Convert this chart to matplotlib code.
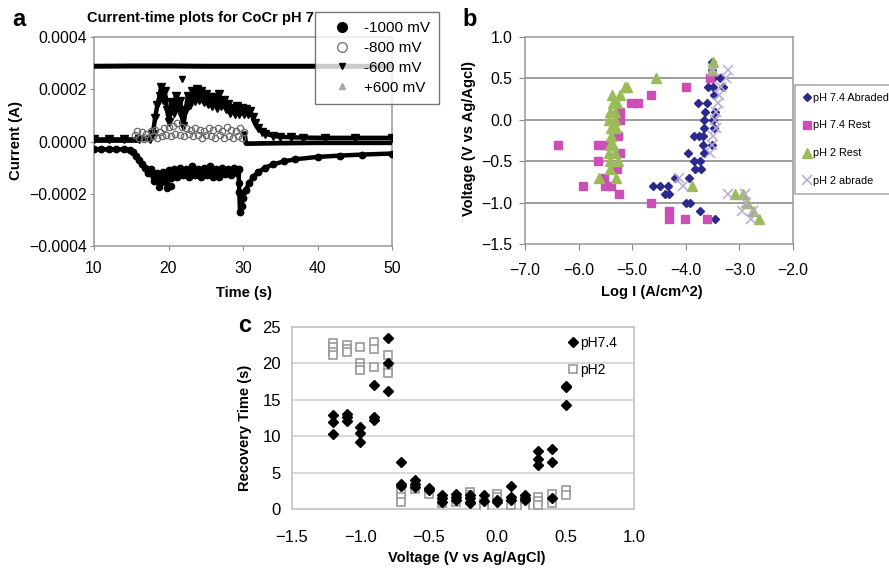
import matplotlib
matplotlib.use("Agg")
import matplotlib.pyplot as plt
from matplotlib.lines import Line2D
from matplotlib.ticker import FixedLocator, FuncFormatter

plt.rcParams['font.family'] = ['Liberation Sans', 'DejaVu Sans']

W, H = 889, 570
def fx(p): return p / W
def fy(p): return 1 - p / H

# ---------------- Panel a data (current in units of 1e-4 A) ----------------
t_p600 = [10, 15, 20, 25, 30, 35, 40, 45, 50]
i_p600 = [2.88, 2.89, 2.89, 2.88, 2.88, 2.88, 2.88, 2.88, 2.88]

t_m1000 = [10, 11, 12, 13, 14, 14.8, 15.2, 15.6, 16.0, 16.4, 16.8, 17.2, 17.6, 18.0, 18.4,
           18.8, 19.2, 19.6, 20.0, 20.4, 20.8, 21.2, 21.6, 22.0, 22.4, 22.8, 23.2, 23.6,
           24.0, 24.4, 24.8, 25.2, 25.6, 26.0, 26.4, 26.8, 27.2, 27.6, 28.0, 28.4, 28.8,
           29.2, 29.4, 29.5, 29.6, 29.8, 30.0, 30.4, 30.8, 31.4, 32.0, 33.0, 34.0, 35.5,
           37.0, 40.0, 43.0, 46.0, 50.0]
i_m1000 = [-0.30, -0.30, -0.30, -0.30, -0.30, -0.31, -0.40, -0.55, -0.70, -0.85, -1.00,
           -1.20, -1.05, -1.50, -1.20, -1.60, -1.15, -1.55, -1.10, -1.40, -1.05, -1.35,
           -1.00, -1.30, -1.05, -1.35, -0.95, -1.30, -1.05, -1.35, -1.00, -1.30, -0.95,
           -1.35, -1.05, -1.35, -1.00, -1.25, -1.05, -1.30, -1.00, -1.20, -1.05, -1.95,
           -2.70, -2.45, -2.15, -1.85, -1.60, -1.35, -1.18, -1.00, -0.88, -0.76, -0.68,
           -0.59, -0.54, -0.50, -0.46]
t_m1000_out = [18.7, 19.8, 20.3, 29.4]
i_m1000_out = [-1.75, -1.78, -1.70, -1.58]

t_m800_pre = [10, 12, 14, 15.5]
i_m800_pre = [0.05, 0.05, 0.05, 0.05]
t_m800_post = [30.2, 30.4, 31, 33, 36, 40, 45, 50]
i_m800_post = [0.30, -0.08, -0.08, -0.07, -0.06, -0.05, -0.05, -0.05]
t_m800_noise = [15.5, 15.8, 16.1, 16.4, 16.7, 17.0, 17.3, 17.6, 17.9, 18.2, 18.5, 18.8,
                19.1, 19.4, 19.7, 20.0, 20.3, 20.6, 20.9, 21.2, 21.5, 21.8, 22.1, 22.4,
                22.7, 23.0, 23.3, 23.6, 23.9, 24.2, 24.5, 24.8, 25.1, 25.4, 25.7, 26.0,
                26.3, 26.6, 26.9, 27.2, 27.5, 27.8, 28.1, 28.4, 28.7, 29.0, 29.3, 29.6,
                29.9, 30.2]
i_m800_noise = [0.25, 0.40, 0.15, 0.35, 0.10, 0.30, 0.15, 0.40, 0.20, 0.45, 0.15, 0.35,
                0.20, 0.50, 0.25, 0.55, 0.20, 0.60, 0.30, 0.70, 0.25, 0.55, 0.20, 0.50,
                0.30, 0.45, 0.20, 0.50, 0.25, 0.45, 0.15, 0.40, 0.25, 0.50, 0.20, 0.45,
                0.15, 0.50, 0.25, 0.40, 0.15, 0.55, 0.20, 0.45, 0.15, 0.40, 0.20, 0.50,
                0.15, 0.35]

t_m600 = [10, 12, 14, 16, 17.5, 17.9, 18.2, 18.5, 18.8, 19.0, 19.2, 19.5, 19.8, 20.1,
          20.4, 20.7, 21.0, 21.3, 21.6, 21.8, 22.0, 22.3, 22.6, 22.9, 23.2, 23.5, 23.8,
          24.1, 24.4, 24.7, 25.0, 25.3, 25.6, 25.9, 26.2, 26.5, 26.8, 27.1, 27.4, 27.7,
          28.0, 28.3, 28.6, 28.9, 29.2, 29.5, 29.8, 30.1, 30.4, 30.7, 31.0, 31.3, 31.6,
          32.0, 32.5, 33.0, 34.0, 35.0, 36.5, 38.0, 41.0, 45.0, 50.0]
i_m600 = [0.08, 0.08, 0.08, 0.08, 0.10, 0.30, 0.90, 1.40, 1.75, 2.10, 1.60, 1.95, 1.20,
          0.75, 1.50, 1.10, 1.75, 1.30, 1.55, 0.95, 0.60, 1.20, 1.75, 1.40, 1.95, 1.55,
          2.00, 1.60, 1.95, 1.50, 1.80, 1.45, 1.70, 1.35, 1.70, 1.30, 1.80, 1.35, 1.60,
          1.25, 1.45, 1.10, 1.30, 1.05, 1.35, 1.05, 1.30, 1.05, 1.25, 1.05, 1.15, 0.95,
          0.70, 0.50, 0.38, 0.30, 0.22, 0.18, 0.16, 0.15, 0.14, 0.14, 0.14]
t_m600_out = [21.8]
i_m600_out = [2.40]

a_xticks = [10, 20, 30, 40, 50]
a_yticks = [-4, -2, 0, 2, 4]
a_legend = ['-1000 mV', '-800 mV', '-600 mV', '+600 mV']

# ---------------- Panel b data ----------------
b_ab74_v = [0.7, 0.6, 0.5, 0.5, 0.4, 0.4, 0.4, 0.3, 0.2, 0.2, 0.1, 0.1, 0.0, 0.0, -0.1, -0.1,
            -0.2, -0.2, -0.2, -0.3, -0.3, -0.4, -0.4, -0.5, -0.5, -0.6, -0.6, -0.7, -0.7,
            -0.8, -0.8, -0.8, -0.9, -0.9, -1.0, -1.0, -1.1, -1.2]
b_ab74_l = [-3.52, -3.52, -3.49, -3.36, -3.58, -3.49, -3.30, -3.48, -3.77, -3.61, -3.65,
            -3.46, -3.66, -3.50, -3.66, -3.47, -3.84, -3.76, -3.68, -3.68, -3.52, -3.96,
            -3.66, -3.85, -3.74, -3.83, -3.72, -4.20, -3.94, -4.62, -4.48, -4.34, -4.39,
            -4.31, -4.00, -3.93, -3.73, -3.46]
b_rest74_v = [0.5, 0.4, 0.3, 0.2, 0.2, 0.1, 0.0, -0.2, -0.3, -0.3, -0.3, -0.4, -0.5, -0.6,
              -0.7, -0.8, -0.8, -0.8, -0.9, -1.0, -1.1, -1.2, -1.2, -1.2]
b_rest74_l = [-3.55, -3.99, -4.65, -5.02, -4.89, -5.22, -5.23, -5.27, -6.38, -5.63, -5.51,
              -5.23, -5.63, -5.29, -5.53, -5.91, -5.50, -5.40, -5.25, -4.65, -4.31, -4.31,
              -4.01, -3.61]
b_rest2_v = [0.7, 0.6, 0.5, 0.4, 0.4, 0.3, 0.3, 0.2, 0.2, 0.1, 0.1, 0.0, 0.0, -0.1, -0.1,
             -0.2, -0.3, -0.3, -0.4, -0.4, -0.5, -0.5, -0.6, -0.7, -0.7, -0.8, -0.9, -0.9,
             -1.0, -1.1, -1.2]
b_rest2_l = [-3.49, -3.52, -4.56, -5.14, -5.09, -5.37, -5.22, -5.35, -5.29, -5.42, -5.32,
             -5.43, -5.32, -5.39, -5.30, -5.39, -5.42, -5.35, -5.43, -5.32, -5.42, -5.26,
             -5.42, -5.62, -5.30, -3.89, -3.09, -2.93, -2.86, -2.75, -2.63]
b_ab2_v = [0.6, 0.6, 0.5, 0.4, 0.3, 0.2, 0.1, 0.0, -0.1, -0.2, -0.3, -0.4, -0.7, -0.8,
           -0.9, -0.9, -1.0, -1.1, -1.1, -1.2]
b_ab2_l = [-3.21, -3.49, -3.25, -3.34, -3.38, -3.40, -3.43, -3.46, -3.43, -3.49, -3.52,
           -3.55, -4.12, -4.06, -3.21, -2.90, -2.87, -2.96, -2.75, -2.78]
b_xticks = [-7.0, -6.0, -5.0, -4.0, -3.0, -2.0]
b_yticks = [-1.5, -1.0, -0.5, 0.0, 0.5, 1.0]
b_legend = ['pH 7.4 Abraded', 'pH 7.4 Rest', 'pH 2 Rest', 'pH 2 abrade']

# ---------------- Panel c data ----------------
c_74_v = [-1.2, -1.2, -1.2, -1.1, -1.1, -1.1, -1.0, -1.0, -1.0, -0.9, -0.9, -0.9, -0.8,
          -0.8, -0.8, -0.7, -0.7, -0.7, -0.6, -0.6, -0.6, -0.5, -0.5, -0.4, -0.4, -0.4,
          -0.3, -0.3, -0.3, -0.2, -0.2, -0.2, -0.2, -0.1, -0.1, 0.0, 0.0, 0.1, 0.1, 0.1,
          0.2, 0.2, 0.2, 0.3, 0.3, 0.3, 0.4, 0.4, 0.4, 0.5, 0.5, 0.5]
c_74_t = [12.9, 12.0, 10.3, 13.0, 12.6, 12.1, 11.3, 10.4, 9.2, 17.1, 12.7, 12.2, 23.5,
          20.1, 16.2, 6.4, 3.5, 3.1, 4.0, 3.5, 3.0, 2.9, 2.6, 1.9, 1.5, 1.0, 2.1, 1.7, 1.2,
          1.9, 1.5, 1.0, 0.8, 1.9, 1.1, 1.0, 1.2, 3.2, 1.6, 1.3, 1.9, 1.5, 1.2, 8.0, 6.8,
          6.0, 8.2, 6.5, 1.5, 16.9, 16.8, 14.3]
c_2_v = [-1.2, -1.2, -1.2, -1.2, -1.1, -1.1, -1.1, -1.0, -1.0, -1.0, -1.0, -0.9, -0.9,
         -0.9, -0.8, -0.8, -0.8, -0.7, -0.7, -0.7, -0.6, -0.5, -0.4, -0.4, -0.3, -0.2,
         -0.2, -0.1, -0.1, 0.0, 0.0, 0.1, 0.2, 0.2, 0.3, 0.3, 0.3, 0.4, 0.4, 0.5, 0.5]
c_2_t = [22.8, 22.2, 21.6, 21.1, 22.5, 22.0, 21.6, 22.3, 20.0, 19.5, 19.1, 22.9, 22.0,
         19.5, 21.1, 19.1, 18.7, 2.4, 1.7, 0.9, 2.8, 2.1, 1.0, 0.8, 1.0, 2.4, 1.9, 0.8,
         0.3, 2.1, 1.7, 0.5, 1.2, 0.3, 1.7, 1.1, 0.6, 2.1, 0.8, 2.6, 1.9]
c_xticks = [-1.5, -1.0, -0.5, 0.0, 0.5, 1.0]
c_yticks = [0, 5, 10, 15, 20, 25]
c_legend = ['pH7.4', 'pH2']

def minus_fmt(dec, scale=1.0):
    def f(v, pos):
        return f"{v * scale:.{dec}f}".replace('-', '\u2212')
    return FuncFormatter(f)

fig = plt.figure(figsize=(W / 100, H / 100), dpi=100)

# ======================= Panel a =======================
axA = fig.add_axes([fx(94), fy(246), fx(392) - fx(94), fy(37) - fy(246)])
axA.plot(t_p600, i_p600, color='black', lw=3.6, solid_capstyle='butt', zorder=3)
axA.plot(t_m1000, i_m1000, color='black', lw=3.2, marker='o', ms=4.6, zorder=3)
axA.plot(t_m1000_out, i_m1000_out, ls='none', color='black', marker='o', ms=4.4, zorder=3)
axA.plot(t_m800_pre, i_m800_pre, color='black', lw=3.4, zorder=3)
axA.plot(t_m800_post, i_m800_post, color='black', lw=3.4, zorder=3)
axA.plot(t_m800_noise, i_m800_noise, ls='none', marker='o', ms=4.6, mfc='none',
         mec='#6a6a6a', mew=0.9, zorder=4)
axA.plot(t_m600, i_m600, color='black', lw=3.2, marker='v', ms=5.2, zorder=3)
axA.plot(t_m600_out, i_m600_out, ls='none', color='black', marker='v', ms=4.6, zorder=3)
axA.set_xlim(10, 50)
axA.set_ylim(-4, 4)
axA.xaxis.set_major_locator(FixedLocator(a_xticks))
axA.yaxis.set_major_locator(FixedLocator(a_yticks))
axA.yaxis.set_major_formatter(minus_fmt(4, 1e-4))
axA.tick_params(axis='both', direction='out', length=3, color='#888888', labelsize=11.3)
axA.tick_params(axis='y', pad=2)
axA.tick_params(axis='x', pad=8)
for s in axA.spines.values():
    s.set_color('#999999')
    s.set_linewidth(1.1)

handles_a = [
    Line2D([], [], ls='none', marker='o', ms=7, color='black'),
    Line2D([], [], ls='none', marker='o', ms=7, mfc='white', mec='#777777', mew=1.0),
    Line2D([], [], ls='none', marker='v', ms=4.5, color='black'),
    Line2D([], [], ls='none', marker='^', ms=4.5, color='#aaaaaa'),
]
legA = fig.legend(handles_a, a_legend, loc='upper left',
                  bbox_to_anchor=(fx(315), fy(12)), bbox_transform=fig.transFigure,
                  fontsize=11, frameon=True, fancybox=False, borderpad=0.6,
                  handlelength=2.3, handletextpad=0.3, labelspacing=0.38, borderaxespad=0)
legA.get_frame().set_edgecolor('#555555')
legA.get_frame().set_linewidth(1.0)

fig.text(fx(87), fy(18), 'Current-time plots for CoCr pH 7', fontsize=10.5,
         fontweight='bold', ha='left', va='center')
fig.text(fx(19), fy(20), 'a', fontsize=17, fontweight='bold', ha='center', va='center')
fig.text(fx(16), fy(141), 'Current (A)', fontsize=10.8, fontweight='bold', rotation=90,
         ha='center', va='center')
fig.text(fx(244), fy(293), 'Time (s)', fontsize=10.5, fontweight='bold', ha='center',
         va='center')

# ======================= Panel b =======================
axB = fig.add_axes([fx(525), fy(244), fx(793) - fx(525), fy(37) - fy(244)])
for yv in [-1.0, -0.5, 0.0, 0.5]:
    axB.axhline(yv, color='#8c8c8c', lw=1.2, zorder=1)
axB.plot(b_ab74_l, b_ab74_v, ls='none', marker='D', ms=4.4, color='#2b2a8c', zorder=3)
axB.plot(b_rest74_l, b_rest74_v, ls='none', marker='s', ms=5.5, color='#cc4fb8', zorder=3)
axB.plot(b_rest2_l, b_rest2_v, ls='none', marker='^', ms=7, color='#9bbb59', zorder=3)
axB.plot(b_ab2_l, b_ab2_v, ls='none', marker='x', ms=7, mew=1.1, color='#b8aad6', zorder=3)
axB.set_xlim(-7.0, -2.0)
axB.set_ylim(-1.5, 1.0)
axB.xaxis.set_major_locator(FixedLocator(b_xticks))
axB.yaxis.set_major_locator(FixedLocator(b_yticks))
axB.xaxis.set_major_formatter(minus_fmt(1))
axB.yaxis.set_major_formatter(minus_fmt(1))
axB.tick_params(axis='both', direction='out', length=4, color='#888888', labelsize=11.3)
axB.tick_params(axis='x', pad=10)
axB.tick_params(axis='y', pad=5)
for s in axB.spines.values():
    s.set_color('#999999')
    s.set_linewidth(1.1)

handles_b = [
    Line2D([], [], ls='none', marker='D', ms=4.2, color='#2b2a8c'),
    Line2D([], [], ls='none', marker='s', ms=5.5, color='#cc4fb8'),
    Line2D([], [], ls='none', marker='^', ms=6.5, color='#9bbb59'),
    Line2D([], [], ls='none', marker='x', ms=7, mew=1.1, color='#b8aad6'),
]
legB = fig.legend(handles_b, b_legend, loc='upper left',
                  bbox_to_anchor=(fx(795), fy(85)), bbox_transform=fig.transFigure,
                  fontsize=7.8, frameon=True, fancybox=False, borderpad=0.7,
                  handlelength=0.85, handletextpad=0.1, labelspacing=1.65, borderaxespad=0)
legB.get_frame().set_edgecolor('#999999')
legB.get_frame().set_linewidth(1.2)

fig.text(fx(470), fy(19), 'b', fontsize=17, fontweight='bold', ha='center', va='center')
fig.text(fx(469), fy(138), 'Voltage (V vs Ag/Agcl)', fontsize=10.5, fontweight='bold',
         rotation=90, ha='center', va='center')
fig.text(fx(652), fy(292), 'Log I (A/cm^2)', fontsize=10.5, fontweight='bold',
         ha='center', va='center')

# ======================= Panel c =======================
axC = fig.add_axes([fx(292), fy(509), fx(634) - fx(292), fy(327) - fy(509)])
for yv in [5, 10, 15, 20]:
    axC.axhline(yv, color='#cfcfcf', lw=1.1, zorder=1)
axC.plot(c_2_v, c_2_t, ls='none', marker='s', ms=5.8, mfc='white', mec='#9a9a9a',
         mew=1.2, zorder=3)
axC.plot(c_74_v, c_74_t, ls='none', marker='D', ms=5.6, color='black', zorder=4)
axC.set_xlim(-1.5, 1.0)
axC.set_ylim(0, 25)
axC.xaxis.set_major_locator(FixedLocator(c_xticks))
axC.yaxis.set_major_locator(FixedLocator(c_yticks))
axC.xaxis.set_major_formatter(minus_fmt(1))
axC.tick_params(axis='both', length=0, labelsize=12)
axC.tick_params(axis='x', pad=15)
axC.tick_params(axis='y', pad=8)
for s in axC.spines.values():
    s.set_color('#bdbdbd')
    s.set_linewidth(1.1)

handles_c = [
    Line2D([], [], ls='none', marker='D', ms=5, color='black'),
    Line2D([], [], ls='none', marker='s', ms=5.5, mfc='white', mec='#9a9a9a', mew=1.2),
]
legC = fig.legend(handles_c, c_legend, loc='upper left',
                  bbox_to_anchor=(fx(567), fy(336)), bbox_transform=fig.transFigure,
                  fontsize=10, frameon=False, borderpad=0, handlelength=0.8,
                  handletextpad=0.15, labelspacing=0.95, borderaxespad=0)

fig.text(fx(245), fy(325), 'c', fontsize=17, fontweight='bold', ha='center', va='center')
fig.text(fx(245), fy(428), 'Recovery Time (s)', fontsize=10.5, fontweight='bold',
         rotation=90, ha='center', va='center')
fig.text(fx(467), fy(558), 'Voltage (V vs Ag/AgCl)', fontsize=10.5, fontweight='bold',
         ha='center', va='center')

fig.savefig('out.png', dpi=100)
